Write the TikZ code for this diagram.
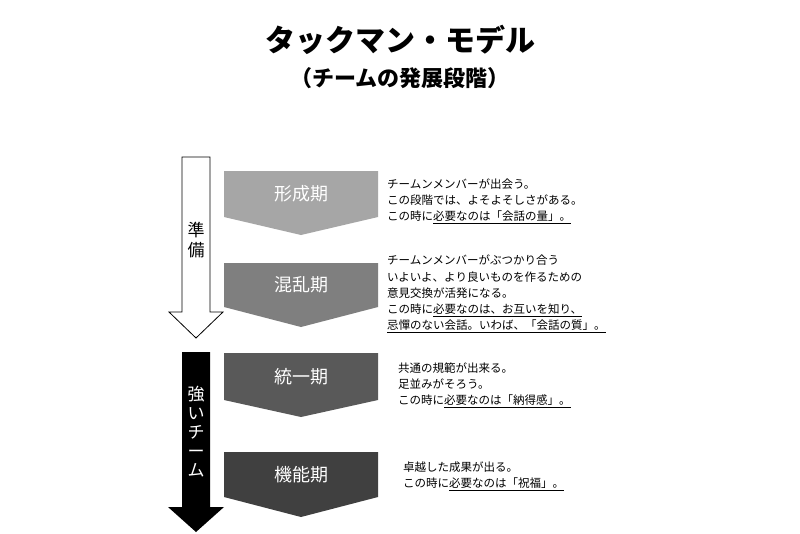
\documentclass[tikz,border=0pt]{standalone}
\usepackage{fontspec}
\setmainfont{Noto Sans CJK JP}
\newfontfamily\jpb{Noto Sans CJK JP}[FakeBold=0]
\begin{document}
\begin{tikzpicture}[x=1pt,y=-1pt,
  chev/.style={draw=none},
  lbl/.style={text=white,font=\fontsize{18}{20}\selectfont},
  desc/.style={anchor=west,align=left,font=\fontsize{11.5}{16.2}\selectfont,inner sep=0pt}]
\useasboundingbox[fill=white] (0,0) rectangle (800,533);
\node[font=\bfseries\fontsize{30}{32}\selectfont] (t1) at (400,40) {タックマン・モデル};
\node[font=\bfseries\fontsize{22}{24}\selectfont] (t2) at (400,78) {（チームの発展段階）};
% arrows
\draw[black,line width=0.8pt,fill=white] (182,157) -- (210,157) -- (210,312) -- (223,312) -- (196,338) -- (169,312) -- (182,312) -- cycle;
\fill[black] (182,352) -- (210,352) -- (210,507) -- (224,507) -- (196,532) -- (168,507) -- (182,507) -- cycle;
\node[font=\fontsize{17}{20}\selectfont,align=center] (p1) at (196,240) {準\\備};
\node[font=\fontsize{17}{19}\selectfont,align=center,text=white] (p2) at (196,432) {強\\い\\チ\\ー\\ム};
% chevrons
\foreach \t/\r/\p/\c/\n in {171/217/235/a6a6a6/形成期, 263/307/327/7f7f7f/混乱期, 353/400/417/595959/統一期, 452/497/517/404040/機能期}{
  \definecolor{cc}{HTML}{\c}
  \fill[cc] (224,\t) -- (378,\t) -- (378,\r) -- (301,\p) -- (224,\r) -- cycle;
  \node[lbl] at (301,{(\t+\r)/2}) {\n};
}
\node[desc] (d1) at (387,201) {チームンメンバーが出会う。\\この段階では、よそよそしさがある。\\この時に\underline{必要なのは「会話の量」。}};
\node[desc] (d2) at (387,294) {チームンメンバーがぶつかり合う\\いよいよ、より良いものを作るための\\意見交換が活発になる。\\この時に\underline{必要なのは、お互いを知り、}\\\underline{忌憚のない会話。いわば、「会話の質」。}};
\node[desc] (d3) at (398,385) {共通の規範が出来る。\\足並みがそろう。\\この時に\underline{必要なのは「納得感」。}};
\node[desc] (d4) at (403,476) {卓越した成果が出る。\\この時に\underline{必要なのは「祝福」。}};
\end{tikzpicture}
\end{document}
